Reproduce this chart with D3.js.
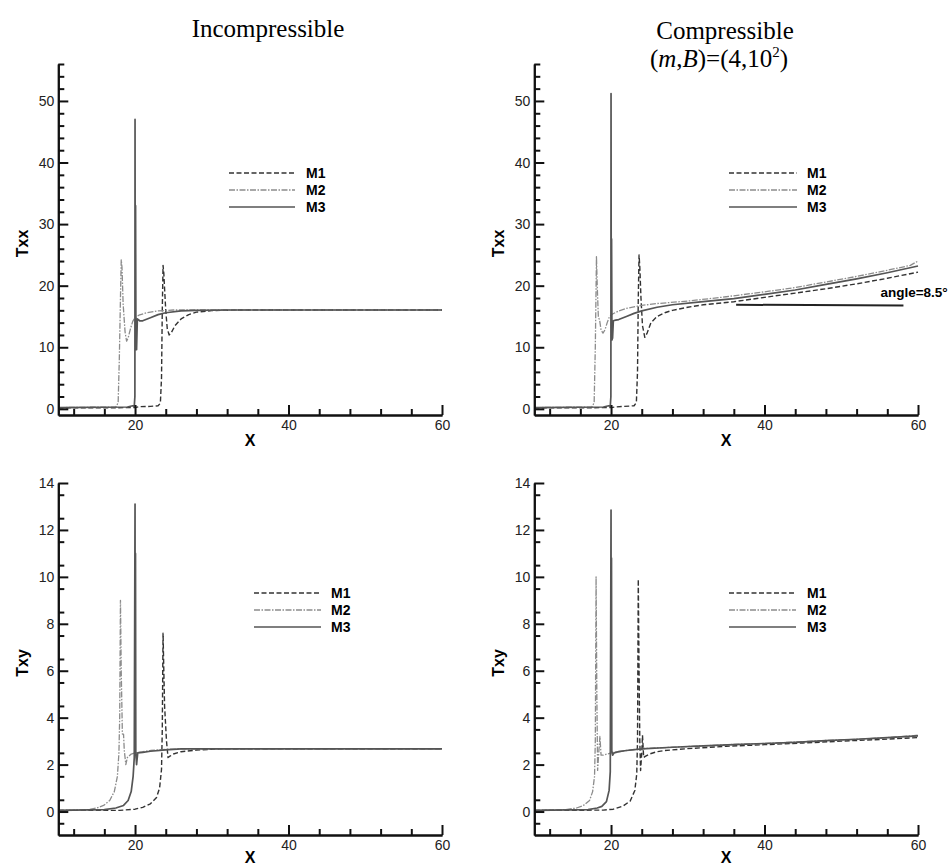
<!DOCTYPE html>
<html>
<head>
<meta charset="utf-8">
<script src="https://cdn.jsdelivr.net/npm/d3@7"></script>
<style>
  body { margin: 0; background: #fff; }
  text { font-family: "Liberation Sans", Arial, sans-serif; }
  .title { font-family: "Liberation Serif", "Times New Roman", serif; font-size: 25px; }
</style>
</head>
<body>
<div id="chart"></div>
<script>
// [x, value] pairs
const incTxxM1 = [[10,0.15],[20,0.2],[20.5,0.35],[22,0.4],[23,0.5],[23.3,0.9],[23.45,5],[23.55,16],[23.65,23.3],[23.75,22],[23.85,19.5],[24.0,16],[24.2,13],[24.45,12.0],[24.7,12.3],[25.2,13.5],[26,14.6],[27,15.3],[28,15.7],[30,15.95],[33,16.05],[60,16.05]];
const incTxxM2 = [[10,0.2],[17.5,0.3],[17.8,1],[17.95,8],[18.1,18],[18.2,24.2],[18.3,23],[18.45,17],[18.7,12.5],[18.9,11],[19.1,11.5],[19.4,13],[19.7,14.2],[20,14.8],[20.5,15.2],[21.5,15.6],[23,15.9],[25,16.05],[60,16.05]];
const incTxxM3 = [[10,0.2],[19,0.3],[19.7,0.5],[19.9,0.4],[19.98,2],[20.0,47],[20.03,10],[20.07,33],[20.12,9.6],[20.2,9.6],[20.3,14.6],[20.6,14.3],[21,14.3],[22,14.8],[23,15.3],[24,15.6],[26,15.9],[28,16.0],[32,16.05],[60,16.05]];

const cmpTxxM1 = [[10,0.15],[20,0.2],[20.5,0.3],[23,0.5],[23.3,1],[23.45,6],[23.55,18],[23.65,25],[23.75,23],[23.9,18],[24.1,13.5],[24.4,11.6],[24.7,12.3],[25.2,14],[26,15],[27,15.6],[28,16],[30,16.5],[32,16.9],[36,17.4],[40,18.1],[44,18.8],[48,19.5],[52,20.3],[56,21.2],[60,22.2]];
const cmpTxxM2 = [[10,0.2],[17.5,0.3],[17.8,1],[17.95,10],[18.1,24.7],[18.2,20],[18.35,14.8],[18.5,14.5],[18.7,12.8],[18.95,12.3],[19.2,12.8],[19.5,14],[19.8,15],[20.2,15.4],[21,15.9],[22,16.3],[24,16.8],[26,17.1],[30,17.5],[35,18.2],[40,19.0],[44,19.7],[48,20.6],[52,21.5],[56,22.5],[59,23.3],[60,24.0]];
const cmpTxxM3 = [[10,0.2],[19,0.3],[19.7,0.5],[19.9,0.4],[19.98,2],[20.0,51.2],[20.03,12],[20.07,27.6],[20.12,11.2],[20.2,11.5],[20.3,14.3],[20.6,14.4],[21,14.5],[22,15.0],[23,15.5],[24,15.9],[26,16.5],[28,16.9],[32,17.4],[36,17.9],[40,18.6],[44,19.3],[48,20.2],[52,21.1],[56,22.1],[60,23.2]];
const angleLine = [[36.3,16.9],[58.1,16.8]];

const incTxyM1 = [[10,0.05],[18,0.05],[20,0.1],[21,0.18],[22,0.33],[22.8,0.6],[23.2,1.0],[23.45,1.8],[23.55,3.5],[23.65,7.6],[23.75,6],[23.85,4.5],[24.0,3.6],[24.1,3.0],[24.3,2.3],[24.5,2.35],[25,2.45],[26,2.55],[28,2.62],[31,2.67],[60,2.67]];
const incTxyM2 = [[10,0.05],[14,0.08],[15,0.15],[15.9,0.26],[16.7,0.47],[17.3,0.85],[17.7,1.5],[17.9,2.5],[18.0,4],[18.1,9.0],[18.2,6],[18.35,3.3],[18.5,3.3],[18.6,2.6],[18.8,2.0],[19.0,2.3],[19.5,2.45],[20,2.5],[22,2.6],[24,2.65],[26,2.67],[60,2.67]];
const incTxyM3 = [[10,0.05],[16,0.08],[17.5,0.15],[18.5,0.26],[19.1,0.47],[19.5,0.85],[19.75,1.5],[19.9,2.3],[20.0,13.1],[20.03,3],[20.06,11],[20.1,2.5],[20.2,2.0],[20.35,2.5],[21,2.52],[22,2.57],[24,2.63],[26,2.67],[60,2.67]];

const cmpTxyM1 = [[10,0.05],[19,0.06],[20.3,0.1],[21.6,0.24],[22.5,0.45],[23.1,0.9],[23.35,1.6],[23.45,3],[23.55,9.9],[23.65,6],[23.75,3],[23.85,1.75],[24.0,2.5],[24.1,3.25],[24.25,2.3],[24.45,2.35],[25,2.45],[26,2.55],[27,2.6],[30,2.68],[35,2.78],[40,2.85],[45,2.92],[50,3.0],[55,3.07],[60,3.15]];
const cmpTxyM2 = [[10,0.05],[14,0.08],[15.5,0.15],[16.4,0.26],[17.2,0.47],[17.6,0.85],[17.85,1.5],[17.95,3],[18.05,10],[18.15,5],[18.25,1.75],[18.4,2.5],[18.55,3.2],[18.7,2.4],[19,2.4],[20,2.5],[22,2.6],[24,2.68],[28,2.74],[32,2.8],[36,2.86],[40,2.9],[44,2.96],[48,3.03],[52,3.08],[56,3.15],[59,3.22],[60,3.26]];
const cmpTxyM3 = [[10,0.05],[17,0.08],[18.2,0.15],[18.8,0.22],[19.4,0.42],[19.75,0.9],[19.9,1.7],[20.0,12.85],[20.03,3],[20.06,10.8],[20.1,2.6],[20.2,2.4],[20.4,2.5],[21,2.55],[22,2.6],[24,2.67],[28,2.74],[32,2.8],[36,2.85],[40,2.9],[44,2.95],[48,3.02],[52,3.08],[56,3.15],[60,3.22]];

const seriesNames = ["M1", "M2", "M3"];
const xMajor = [20, 40, 60];
const xMinor = [12, 16, 24, 28, 32, 36, 44, 48, 52, 56];
const txxMajor = [0, 10, 20, 30, 40, 50];
const txxMinor = [2, 4, 6, 8, 12, 14, 16, 18, 22, 24, 26, 28, 32, 34, 36, 38, 42, 44, 46, 48, 52, 54, 56];
const txyMajor = [0, 2, 4, 6, 8, 10, 12, 14];
const txyMinor = [-0.5, 0.5, 1.5, 2.5, 3.5, 4.5, 5.5, 6.5, 7.5, 8.5, 9.5, 10.5, 11.5, 12.5, 13.5];

const styles = {
  M1: { stroke: "#333", width: 1.4, dash: "5,2.5" },
  M2: { stroke: "#8c8c8c", width: 1.3, dash: "6,1.5,1.5,1.5" },
  M3: { stroke: "#555", width: 1.7, dash: null }
};

const svg = d3.select("#chart").append("svg")
  .attr("width", 951).attr("height", 865)
  .style("background", "#fff");

const panels = [
  { left: 58.3, right: 442, top: 64, bottom: 415, yDom: [-1, 56], yMaj: txxMajor, yMin: txxMinor, yLabel: "Txx", xTitle: 446,
    data: [incTxxM1, incTxxM2, incTxxM3], legend: [229, 295, 306], legY: [173, 190, 207] },
  { left: 534.3, right: 918, top: 64, bottom: 415, yDom: [-1, 56], yMaj: txxMajor, yMin: txxMinor, yLabel: "Txx", xTitle: 446,
    data: [cmpTxxM1, cmpTxxM2, cmpTxxM3], legend: [729, 797, 807], legY: [173, 190, 207], extra: angleLine },
  { left: 58.3, right: 442, top: 483, bottom: 835, yDom: [-1, 14], yMaj: txyMajor, yMin: txyMinor, yLabel: "Txy", xTitle: 863,
    data: [incTxyM1, incTxyM2, incTxyM3], legend: [254, 321, 331], legY: [593, 610, 627] },
  { left: 534.3, right: 918, top: 483, bottom: 835, yDom: [-1, 14], yMaj: txyMajor, yMin: txyMinor, yLabel: "Txy", xTitle: 863,
    data: [cmpTxyM1, cmpTxyM2, cmpTxyM3], legend: [729, 796, 807], legY: [593, 610, 627] }
];

panels.forEach((p) => {
  const x = d3.scaleLinear().domain([10, 60]).range([p.left, p.right]);
  const y = d3.scaleLinear().domain(p.yDom).range([p.bottom, p.top]);
  const g = svg.append("g");

  const line = d3.line().x((d) => x(d[0])).y((d) => y(d[1]));

  // curves
  p.data.forEach((pts, i) => {
    const s = styles[seriesNames[i]];
    g.append("path")
      .datum(pts)
      .attr("d", line)
      .attr("fill", "none")
      .attr("stroke", s.stroke)
      .attr("stroke-width", s.width)
      .attr("stroke-dasharray", s.dash)
      .attr("stroke-linejoin", "round");
  });

  if (p.extra) {
    g.append("path").datum(p.extra).attr("d", line)
      .attr("fill", "none").attr("stroke", "#222").attr("stroke-width", 2);
    g.append("text")
      .attr("x", x(p.extra[1][0]) - 23)
      .attr("y", y(p.extra[0][1]) - 8)
      .attr("font-size", 13.5).attr("font-weight", "bold")
      .text("angle=8.5°");
  }

  // axes
  g.append("g").attr("transform", `translate(0,${p.bottom})`)
    .call(d3.axisBottom(x).tickValues(xMajor).tickSize(-10).tickSizeOuter(0).tickPadding(5));
  g.append("g").attr("transform", `translate(0,${p.bottom})`)
    .call(d3.axisBottom(x).tickValues(xMinor).tickSize(-6).tickSizeOuter(0).tickFormat(""));
  g.append("g").attr("transform", `translate(${p.left},0)`)
    .call(d3.axisLeft(y).tickValues(p.yMaj).tickSize(-10).tickSizeOuter(0).tickPadding(4));
  g.append("g").attr("transform", `translate(${p.left},0)`)
    .call(d3.axisLeft(y).tickValues(p.yMin).tickSize(-6).tickSizeOuter(0).tickFormat(""));

  g.selectAll(".domain").attr("stroke", "#111").attr("stroke-width", 2);
  g.selectAll(".tick line").attr("stroke", "#111").attr("stroke-width", 2);
  g.selectAll(".tick text").attr("font-size", 14).attr("fill", "#222")
    .attr("font-family", "'Liberation Sans', Arial, sans-serif");

  // axis titles
  g.append("text")
    .attr("x", (p.left + p.right) / 2)
    .attr("y", p.xTitle)
    .attr("text-anchor", "middle")
    .attr("font-size", 16).attr("font-weight", "bold")
    .text("X");
  g.append("text")
    .attr("transform", `translate(${p.left - 30},${(p.top + p.bottom) / 2 + 4}) rotate(-90)`)
    .attr("text-anchor", "middle")
    .attr("font-size", 16).attr("font-weight", "bold")
    .text(p.yLabel);

  // legend
  seriesNames.forEach((name, i) => {
    const s = styles[name];
    g.append("line")
      .attr("x1", p.legend[0]).attr("x2", p.legend[1])
      .attr("y1", p.legY[i]).attr("y2", p.legY[i])
      .attr("stroke", s.stroke).attr("stroke-width", s.width)
      .attr("stroke-dasharray", s.dash);
    g.append("text")
      .attr("x", p.legend[2]).attr("y", p.legY[i] + 5)
      .attr("font-size", 14).attr("font-weight", "bold")
      .text(name);
  });
});

// titles
svg.append("text").attr("class", "title")
  .attr("x", 268).attr("y", 37).attr("text-anchor", "middle")
  .text("Incompressible");
svg.append("text").attr("class", "title")
  .attr("x", 725).attr("y", 39).attr("text-anchor", "middle")
  .text("Compressible");
const sub = svg.append("text").attr("class", "title")
  .attr("x", 719).attr("y", 67).attr("text-anchor", "middle");
sub.append("tspan").text("(");
sub.append("tspan").attr("font-style", "italic").text("m");
sub.append("tspan").text(",");
sub.append("tspan").attr("font-style", "italic").text("B");
sub.append("tspan").text(")=(4,10");
sub.append("tspan").attr("font-size", 15).attr("dy", -10).text("2");
sub.append("tspan").attr("dy", 10).text(")");
</script>
</body>
</html>
